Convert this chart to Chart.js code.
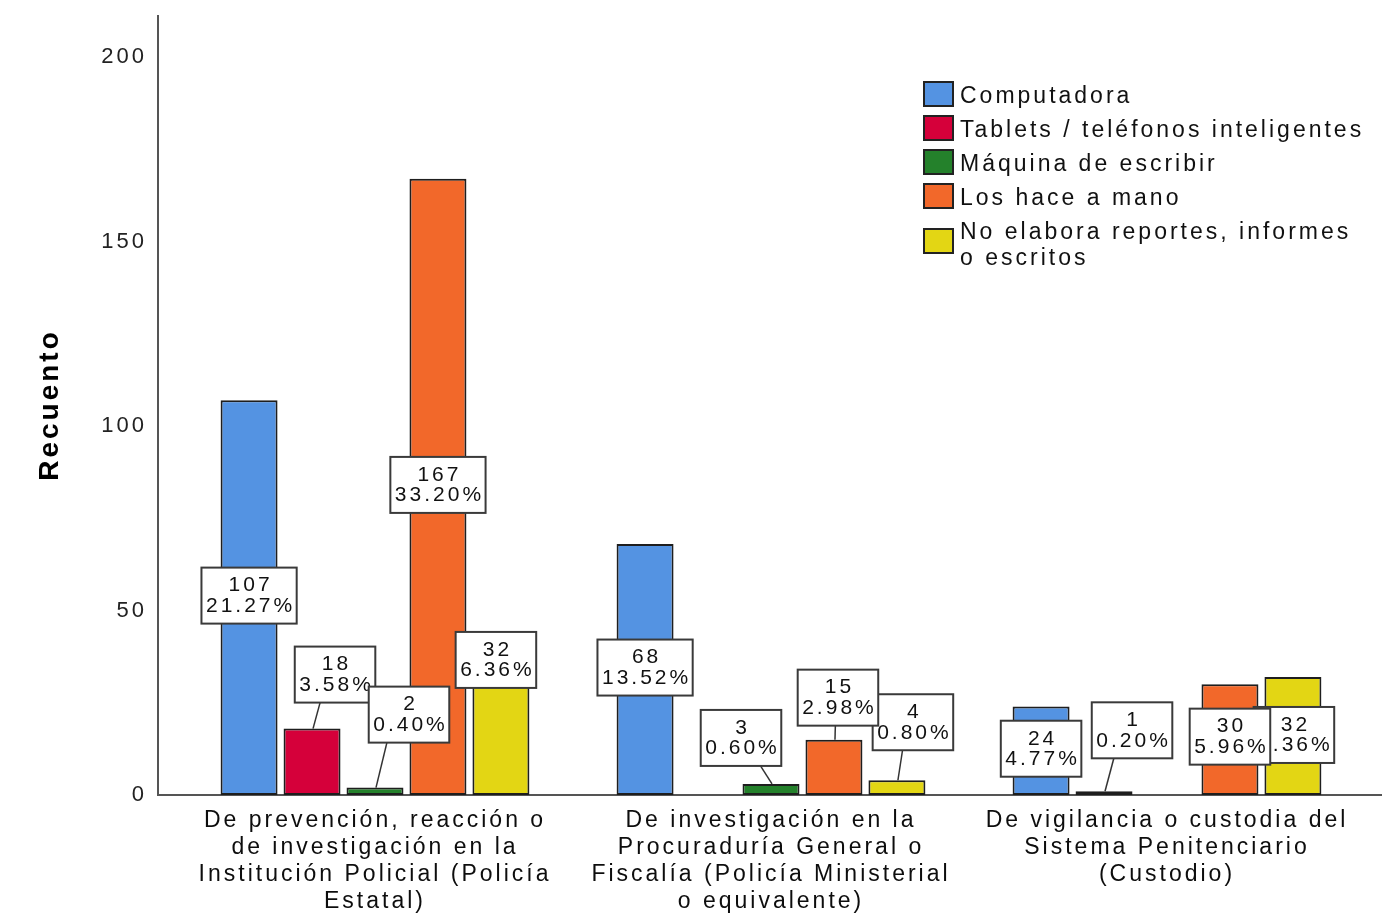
<!DOCTYPE html>
<html>
<head>
<meta charset="utf-8">
<script src="https://cdn.jsdelivr.net/npm/chart.js@4"></script>
<style>
  html, body { margin: 0; background: #fff; }
  canvas { display: block; }
</style>
</head>
<body>
<canvas id="grafico" width="1382" height="915"></canvas>
<script>
// categorias del eje x (ya partidas en renglones)
const categorias = [
  ['De prevención, reacción o', 'de investigación en la', 'Institución Policial (Policía', 'Estatal)'],
  ['De investigación en la', 'Procuraduría General o', 'Fiscalía (Policía Ministerial', 'o equivalente)'],
  ['De vigilancia o custodia del', 'Sistema Penitenciario', '(Custodio)']
];

const series = ['Computadora', 'Tablets / teléfonos inteligentes', 'Máquina de escribir', 'Los hace a mano', 'No elabora reportes, informes o escritos'];
const leyenda = [['Computadora'], ['Tablets / teléfonos inteligentes'], ['Máquina de escribir'], ['Los hace a mano'], ['No elabora reportes, informes', 'o escritos']];

const computadora = [107, 68, 24];
const tablets = [18, 0, 1];
const maquina = [2, 3, 0];
const aMano = [167, 15, 30];
const noElabora = [32, 4, 32];

const pctComputadora = ['21.27%', '13.52%', '4.77%'];
const pctTablets = ['3.58%', '', '0.20%'];
const pctMaquina = ['0.40%', '0.60%', ''];
const pctAMano = ['33.20%', '2.98%', '5.96%'];
const pctNoElabora = ['6.36%', '0.80%', '6.36%'];

const yTicks = [0, 50, 100, 150, 200];

const colores = ['#5493e2', '#d5003a', '#24812b', '#f2682a', '#e3d614'];

const valores = [computadora, tablets, maquina, aMano, noElabora];
const porcentajes = [pctComputadora, pctTablets, pctMaquina, pctAMano, pctNoElabora];

const FUENTE = '"Liberation Sans", Arial, sans-serif';
Chart.defaults.font.family = FUENTE;

// donde va cada caja de etiqueta respecto a su barra: [ancla, dx, dy]
const ubicacion = [
  [['mid', 0, -2], ['mid', 0, -2], ['mid', 0, -2]],
  [['top', 23, -54], null, ['top', 28, -61]],
  [['top', 34, -73], ['top', -30, -46], null],
  [['mid', 0, -2], ['top', 4, -42], ['mid', 0, -3]],
  [['top', -5, -17], ['top', 16, -58], ['mid', 1, -1]]
];
const ordenEtiquetas = [0, 1, 2, 4, 3];

const espaciado = {
  id: 'espaciado',
  beforeUpdate(chart) { chart.ctx.letterSpacing = '3px'; },
  beforeDraw(chart) { chart.ctx.letterSpacing = '3px'; }
};

const ejes = {
  id: 'ejes',
  beforeDatasetsDraw(chart) {
    const ctx = chart.ctx;
    const area = chart.chartArea;
    const x0 = area.left - 19;
    const y0 = chart.scales.y.getPixelForValue(0);
    ctx.save();
    ctx.strokeStyle = '#555';
    ctx.lineWidth = 2;
    ctx.beginPath();
    ctx.moveTo(x0, area.top);
    ctx.lineTo(x0, y0);
    ctx.lineTo(chart.width, y0);
    ctx.stroke();
    ctx.restore();
  }
};

const etiquetas = {
  id: 'etiquetas',
  afterDatasetsDraw(chart) {
    const ctx = chart.ctx;
    ctx.save();
    ctx.letterSpacing = '3px';
    ctx.font = '21px ' + FUENTE;
    ctx.textAlign = 'center';
    ctx.textBaseline = 'middle';
    ordenEtiquetas.forEach(d => {
      const meta = chart.getDatasetMeta(d);
      meta.data.forEach((bar, i) => {
        const v = valores[d][i];
        const u = ubicacion[d][i];
        if (!v || !u) return;
        const lineas = [String(v), porcentajes[d][i]];
        const w = Math.max(...lineas.map(t => ctx.measureText(t).width)) + 6;
        const h = 56;
        const cx = bar.x + u[1];
        const cy = (u[0] === 'mid' ? (bar.y + bar.base) / 2 : bar.y) + u[2];
        const izq = cx - w / 2, arriba = cy - h / 2;
        if (arriba + h < bar.y - 2) {
          const lx = Math.min(Math.max(bar.x + u[1] * 0.35, izq + 6), izq + w - 6);
          ctx.strokeStyle = '#333';
          ctx.lineWidth = 1.5;
          ctx.beginPath();
          ctx.moveTo(bar.x + 1, bar.y);
          ctx.lineTo(lx, arriba + h);
          ctx.stroke();
        }
        ctx.fillStyle = '#fff';
        ctx.fillRect(izq, arriba, w, h);
        ctx.strokeStyle = '#3a3a3a';
        ctx.lineWidth = 2;
        ctx.strokeRect(izq, arriba, w, h);
        ctx.fillStyle = '#111';
        ctx.fillText(lineas[0], cx + 1.5, cy - 10);
        ctx.fillText(lineas[1], cx + 1.5, cy + 10.5);
      });
    });
    ctx.restore();
  }
};

const leyendaPropia = {
  id: 'leyendaPropia',
  afterDraw(chart) {
    const ctx = chart.ctx;
    ctx.save();
    ctx.letterSpacing = '3px';
    ctx.font = '23px ' + FUENTE;
    ctx.textAlign = 'left';
    ctx.textBaseline = 'middle';
    let y = 97;
    chart.data.datasets.forEach((ds, k) => {
      const lineas = leyenda[k];
      const sy = y - 3 + (lineas.length - 1) * 11;
      ctx.fillStyle = ds.backgroundColor;
      ctx.fillRect(924, sy - 12, 29, 24);
      ctx.strokeStyle = '#222';
      ctx.lineWidth = 2;
      ctx.strokeRect(924, sy - 12, 29, 24);
      ctx.fillStyle = '#111';
      lineas.forEach((t, j) => ctx.fillText(t, 960, y + j * 26));
      y += 34 + (lineas.length - 1) * 26;
    });
    ctx.restore();
  }
};

new Chart(document.getElementById('grafico'), {
  type: 'bar',
  data: {
    labels: categorias,
    datasets: series.map((s, k) => ({
      label: s,
      data: valores[k],
      backgroundColor: colores[k],
      borderColor: '#1e1e1e',
      borderWidth: c => (c.raw ? 2 : 0),
      borderSkipped: false,
      categoryPercentage: 0.795,
      barPercentage: 0.905
    }))
  },
  options: {
    responsive: false,
    animation: false,
    layout: { padding: { top: 15, right: 17, left: 0, bottom: 0 } },
    plugins: {
      legend: { display: false },
      tooltip: { enabled: false }
    },
    scales: {
      x: {
        grid: { display: false, drawTicks: false },
        border: { display: false },
        ticks: {
          color: '#0d0d0d',
          padding: 12,
          maxRotation: 0,
          autoSkip: false,
          font: { size: 23, lineHeight: '27px' }
        },
        afterFit(scale) { scale.height = 120; }
      },
      y: {
        min: 0,
        max: 211.4,
        grid: { display: false, drawTicks: false },
        border: { display: false },
        afterBuildTicks(scale) { scale.ticks = yTicks.map(v => ({ value: v })); },
        ticks: {
          color: '#222',
          padding: 30,
          font: { size: 22 }
        },
        title: {
          display: true,
          text: 'Recuento',
          color: '#000',
          padding: { top: 33, bottom: 0 },
          font: { size: 28, weight: 'bold' }
        },
        afterFit(scale) {
          scale.width = 177;
          scale.paddingTop = 0;
          scale.paddingBottom = 0;
        }
      }
    }
  },
  plugins: [espaciado, ejes, etiquetas, leyendaPropia]
});
</script>
</body>
</html>
